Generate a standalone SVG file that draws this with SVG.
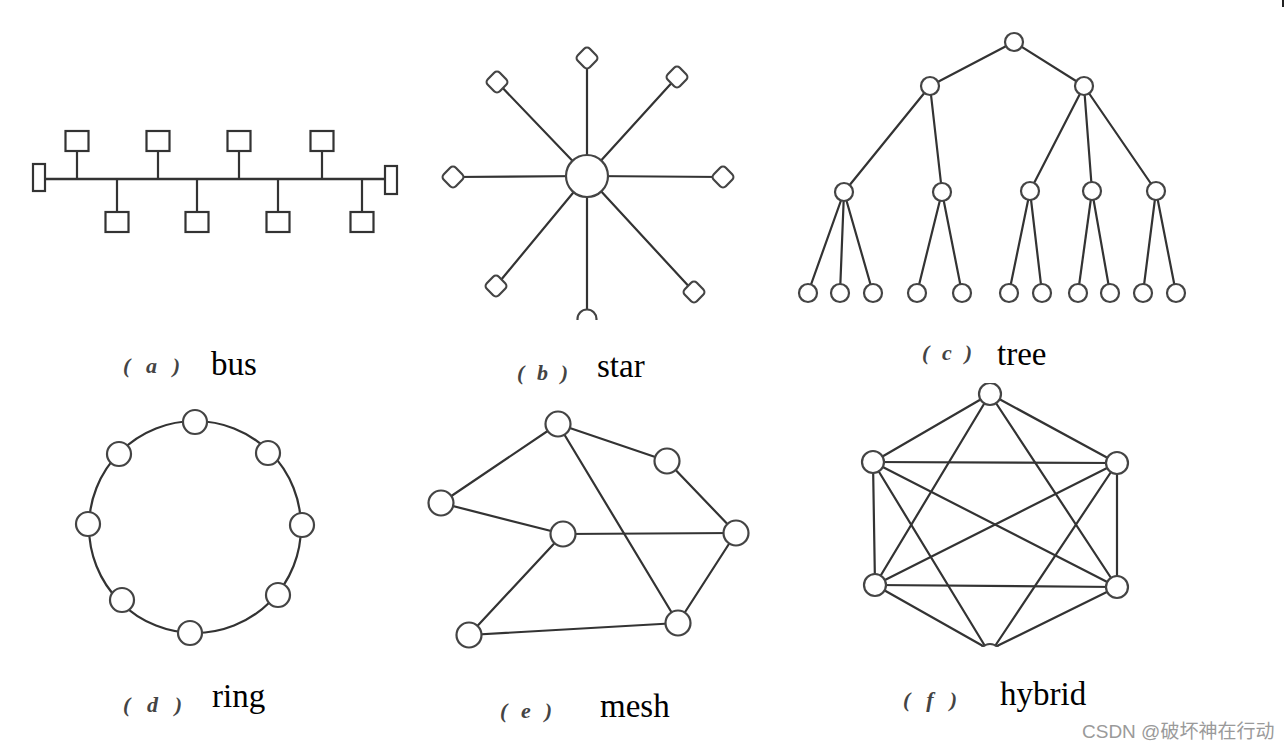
<svg xmlns="http://www.w3.org/2000/svg" width="1287" height="750" viewBox="0 0 1287 750">
<style>
.ln{stroke:#333;stroke-width:2.2;fill:none;stroke-linecap:round}
.bus{stroke:#333;stroke-width:2.6;fill:none}
.box{fill:#fff;stroke:#333;stroke-width:2.2}
.nd{fill:#fff;stroke:#444;stroke-width:2.2}
.lbl{font-family:"Liberation Serif",serif;font-size:33px;fill:#000}
.tag{font-family:"Liberation Serif",serif;font-style:italic;font-weight:bold;font-size:22px;fill:#444}
.wm{font-family:"Liberation Sans","Noto Sans CJK SC",sans-serif;font-size:19px;fill:#9a9a9a}
</style>
<defs>
<clipPath id="starclip"><rect x="420" y="30" width="340" height="290"/></clipPath>
<clipPath id="hyclip"><rect x="840" y="383" width="320" height="264"/></clipPath>
<rect id="dia" x="-8.5" y="-8.5" width="17" height="17" rx="4" transform="rotate(45)"/>
</defs>
<rect width="1287" height="750" fill="#fff"/>
<line x1="1283" y1="0" x2="1283" y2="7" stroke="#222" stroke-width="2"/>

<!-- connectors -->
<g id="connectors">
  <g id="bus-links">
    <line class="bus" x1="45" y1="179" x2="385" y2="179"/>
    <line class="ln" x1="77" y1="151" x2="77" y2="179"/>
    <line class="ln" x1="158" y1="151" x2="158" y2="179"/>
    <line class="ln" x1="239" y1="151" x2="239" y2="179"/>
    <line class="ln" x1="322" y1="151" x2="322" y2="179"/>
    <line class="ln" x1="117" y1="179" x2="117" y2="212"/>
    <line class="ln" x1="197" y1="179" x2="197" y2="212"/>
    <line class="ln" x1="278" y1="179" x2="278" y2="212"/>
    <line class="ln" x1="362" y1="179" x2="362" y2="212"/>
  </g>
  <g id="star-links" clip-path="url(#starclip)">
    <line class="ln" x1="587" y1="176" x2="587" y2="58"/>
    <line class="ln" x1="587" y1="176" x2="497" y2="82"/>
    <line class="ln" x1="587" y1="176" x2="677" y2="77"/>
    <line class="ln" x1="587" y1="176" x2="453" y2="177"/>
    <line class="ln" x1="587" y1="176" x2="723" y2="177"/>
    <line class="ln" x1="587" y1="176" x2="496" y2="286"/>
    <line class="ln" x1="587" y1="176" x2="694" y2="292"/>
    <line class="ln" x1="587" y1="176" x2="587" y2="318"/>
  </g>
  <g id="tree-links">
    <line class="ln" x1="1014" y1="42" x2="930" y2="86"/>
    <line class="ln" x1="1014" y1="42" x2="1084" y2="86"/>
    <line class="ln" x1="930" y1="86" x2="844" y2="192"/>
    <line class="ln" x1="930" y1="86" x2="942" y2="192"/>
    <line class="ln" x1="1084" y1="86" x2="1030" y2="191"/>
    <line class="ln" x1="1084" y1="86" x2="1092" y2="191"/>
    <line class="ln" x1="1084" y1="86" x2="1156" y2="191"/>
    <line class="ln" x1="844" y1="192" x2="808" y2="293"/>
    <line class="ln" x1="844" y1="192" x2="840" y2="293"/>
    <line class="ln" x1="844" y1="192" x2="873" y2="293"/>
    <line class="ln" x1="942" y1="192" x2="917" y2="293"/>
    <line class="ln" x1="942" y1="192" x2="962" y2="293"/>
    <line class="ln" x1="1030" y1="191" x2="1009" y2="293"/>
    <line class="ln" x1="1030" y1="191" x2="1042" y2="293"/>
    <line class="ln" x1="1092" y1="191" x2="1078" y2="293"/>
    <line class="ln" x1="1092" y1="191" x2="1110" y2="293"/>
    <line class="ln" x1="1156" y1="191" x2="1143" y2="293"/>
    <line class="ln" x1="1156" y1="191" x2="1176" y2="293"/>
  </g>
  <g id="ring-links">
    <circle class="ln" cx="195" cy="527" r="106"/>
  </g>
  <g id="mesh-links">
    <line class="ln" x1="558" y1="424" x2="667" y2="461"/>
    <line class="ln" x1="558" y1="424" x2="441" y2="503"/>
    <line class="ln" x1="558" y1="424" x2="678" y2="623"/>
    <line class="ln" x1="667" y1="461" x2="736" y2="533"/>
    <line class="ln" x1="441" y1="503" x2="563" y2="534"/>
    <line class="ln" x1="563" y1="534" x2="736" y2="533"/>
    <line class="ln" x1="563" y1="534" x2="469" y2="635"/>
    <line class="ln" x1="469" y1="635" x2="678" y2="623"/>
    <line class="ln" x1="736" y1="533" x2="678" y2="623"/>
  </g>
  <g id="hybrid-links" clip-path="url(#hyclip)">
    <line class="ln" x1="990" y1="394" x2="873" y2="462"/>
    <line class="ln" x1="990" y1="394" x2="1117" y2="463"/>
    <line class="ln" x1="990" y1="394" x2="875" y2="585"/>
    <line class="ln" x1="990" y1="394" x2="1117" y2="587"/>
    <line class="ln" x1="873" y1="462" x2="1117" y2="463"/>
    <line class="ln" x1="873" y1="462" x2="875" y2="585"/>
    <line class="ln" x1="1117" y1="463" x2="1117" y2="587"/>
    <line class="ln" x1="873" y1="462" x2="1117" y2="587"/>
    <line class="ln" x1="875" y1="585" x2="1117" y2="463"/>
    <line class="ln" x1="875" y1="585" x2="1117" y2="587"/>
    <line class="ln" x1="873" y1="462" x2="985" y2="646"/>
    <line class="ln" x1="1117" y1="463" x2="995" y2="646"/>
    <line class="ln" x1="875" y1="585" x2="983" y2="646"/>
    <line class="ln" x1="1117" y1="587" x2="997" y2="646"/>
  </g>
</g>

<!-- (a) bus -->
<g id="bus">
  <rect id="bus-term-l" class="box" x="33" y="164" width="12" height="27"/>
  <rect id="bus-term-r" class="box" x="385" y="166" width="12" height="28"/>
  <rect id="bus-t1" class="box" x="65.5" y="131" width="23" height="20"/>
  <rect id="bus-t2" class="box" x="146.5" y="131" width="23" height="20"/>
  <rect id="bus-t3" class="box" x="227.5" y="131" width="23" height="20"/>
  <rect id="bus-t4" class="box" x="310.5" y="131" width="23" height="20"/>
  <rect id="bus-b1" class="box" x="105.5" y="212" width="23" height="20"/>
  <rect id="bus-b2" class="box" x="185.5" y="212" width="23" height="20"/>
  <rect id="bus-b3" class="box" x="266.5" y="212" width="23" height="20"/>
  <rect id="bus-b4" class="box" x="350.5" y="212" width="23" height="20"/>
</g>

<!-- (b) star -->
<g id="star" clip-path="url(#starclip)">
  <circle id="star-hub" class="nd" cx="587" cy="176" r="21"/>
  <use href="#dia" class="nd" x="587" y="58"/>
  <use href="#dia" class="nd" x="497" y="82"/>
  <use href="#dia" class="nd" x="677" y="77"/>
  <use href="#dia" class="nd" x="453" y="177"/>
  <use href="#dia" class="nd" x="723" y="177"/>
  <use href="#dia" class="nd" x="496" y="286"/>
  <use href="#dia" class="nd" x="694" y="292"/>
  <circle class="nd" cx="587" cy="319" r="9.5"/>
</g>

<!-- (c) tree -->
<g id="tree">
  <circle class="nd" cx="1014" cy="42" r="9"/>
  <circle class="nd" cx="930" cy="86" r="9"/>
  <circle class="nd" cx="1084" cy="86" r="9"/>
  <circle class="nd" cx="844" cy="192" r="9"/>
  <circle class="nd" cx="942" cy="192" r="9"/>
  <circle class="nd" cx="1030" cy="191" r="9"/>
  <circle class="nd" cx="1092" cy="191" r="9"/>
  <circle class="nd" cx="1156" cy="191" r="9"/>
  <circle class="nd" cx="808" cy="293" r="9"/>
  <circle class="nd" cx="840" cy="293" r="9"/>
  <circle class="nd" cx="873" cy="293" r="9"/>
  <circle class="nd" cx="917" cy="293" r="9"/>
  <circle class="nd" cx="962" cy="293" r="9"/>
  <circle class="nd" cx="1009" cy="293" r="9"/>
  <circle class="nd" cx="1042" cy="293" r="9"/>
  <circle class="nd" cx="1078" cy="293" r="9"/>
  <circle class="nd" cx="1110" cy="293" r="9"/>
  <circle class="nd" cx="1143" cy="293" r="9"/>
  <circle class="nd" cx="1176" cy="293" r="9"/>
</g>

<!-- (d) ring -->
<g id="ring">
  <circle class="nd" cx="195" cy="422" r="12"/>
  <circle class="nd" cx="268" cy="453" r="12"/>
  <circle class="nd" cx="119" cy="454" r="12"/>
  <circle class="nd" cx="88" cy="524" r="12"/>
  <circle class="nd" cx="302" cy="525" r="12"/>
  <circle class="nd" cx="122" cy="600" r="12"/>
  <circle class="nd" cx="278" cy="595" r="12"/>
  <circle class="nd" cx="190" cy="633" r="12"/>
</g>

<!-- (e) mesh -->
<g id="mesh">
  <circle class="nd" cx="558" cy="424" r="12.5"/>
  <circle class="nd" cx="667" cy="461" r="12.5"/>
  <circle class="nd" cx="441" cy="503" r="12.5"/>
  <circle class="nd" cx="563" cy="534" r="12.5"/>
  <circle class="nd" cx="736" cy="533" r="12.5"/>
  <circle class="nd" cx="678" cy="623" r="12.5"/>
  <circle class="nd" cx="469" cy="635" r="12.5"/>
</g>

<!-- (f) hybrid -->
<g id="hybrid" clip-path="url(#hyclip)">
  <circle class="nd" cx="990" cy="394" r="11"/>
  <circle class="nd" cx="873" cy="462" r="11"/>
  <circle class="nd" cx="1117" cy="463" r="11"/>
  <circle class="nd" cx="875" cy="585" r="11"/>
  <circle class="nd" cx="1117" cy="587" r="11"/>
  <circle class="nd" cx="990" cy="655" r="11"/>
</g>

<!-- labels -->
<g id="labels">
  <text class="tag" x="123" y="373" textLength="57" lengthAdjust="spacing">(a)</text>
  <text class="lbl" x="211" y="375">bus</text>
  <text class="tag" x="517" y="380" textLength="51" lengthAdjust="spacing">(b)</text>
  <text class="lbl" x="597" y="377">star</text>
  <text class="tag" x="922" y="360" textLength="50" lengthAdjust="spacing">(c)</text>
  <text class="lbl" x="997" y="365">tree</text>
  <text class="tag" x="123" y="712" textLength="59" lengthAdjust="spacing">(d)</text>
  <text class="lbl" x="212" y="707">ring</text>
  <text class="tag" x="500" y="718" textLength="52" lengthAdjust="spacing">(e)</text>
  <text class="lbl" x="600" y="717">mesh</text>
  <text class="tag" x="903" y="707" textLength="54" lengthAdjust="spacing">(f)</text>
  <text class="lbl" x="1000" y="705">hybrid</text>
  <text class="wm" x="1082" y="738">CSDN @破坏神在行动</text>
</g>
</svg>
